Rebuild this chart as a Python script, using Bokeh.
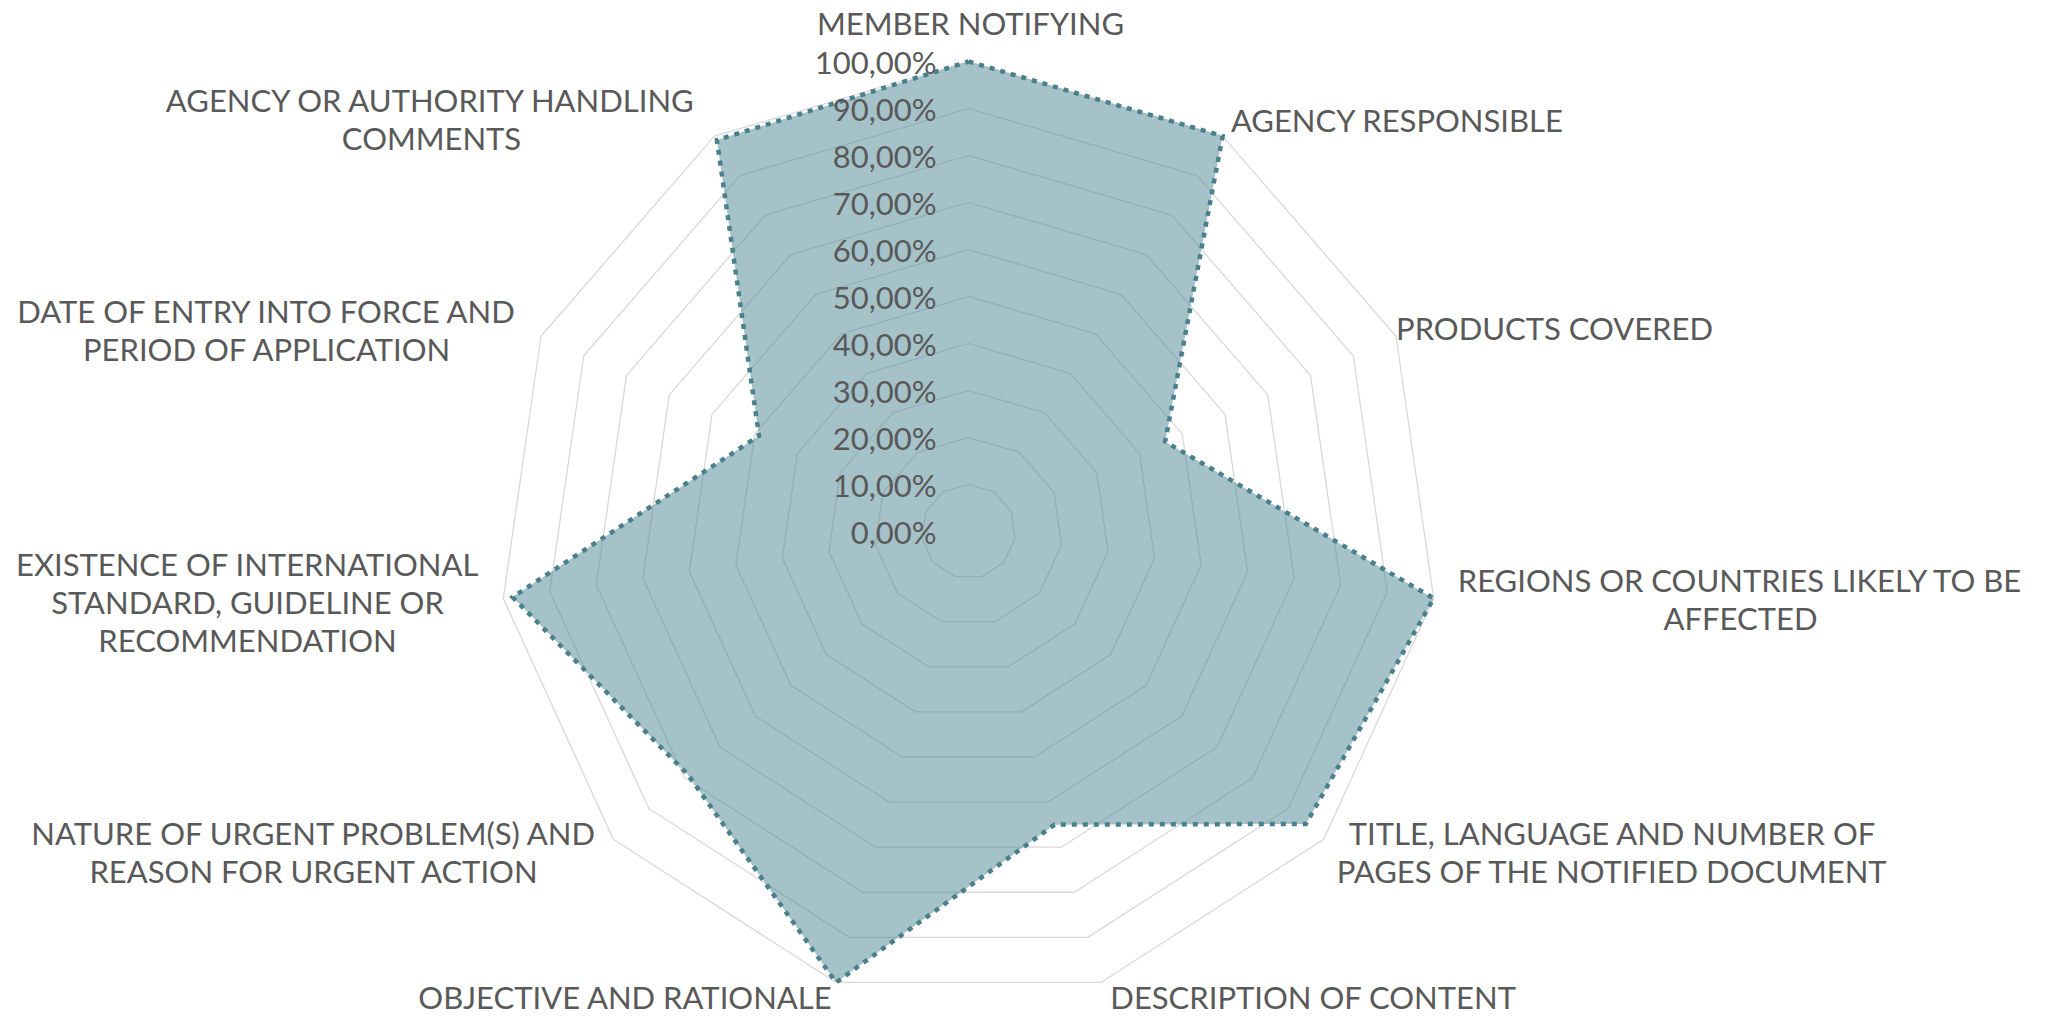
import math
from bokeh.plotting import figure
from bokeh.models import Range1d, ColumnDataSource
from bokeh.core.properties import value
from bokeh.embed import file_html
from bokeh.resources import INLINE

# ---------------- data ----------------
categories = [
    "MEMBER NOTIFYING",
    "AGENCY RESPONSIBLE",
    "PRODUCTS COVERED",
    "REGIONS OR COUNTRIES LIKELY TO BE\nAFFECTED",
    "TITLE, LANGUAGE AND NUMBER OF\nPAGES OF THE NOTIFIED DOCUMENT",
    "DESCRIPTION OF CONTENT",
    "OBJECTIVE AND RATIONALE",
    "NATURE OF URGENT PROBLEM(S) AND\nREASON FOR URGENT ACTION",
    "EXISTENCE OF INTERNATIONAL\nSTANDARD, GUIDELINE OR\nRECOMMENDATION",
    "DATE OF ENTRY INTO FORCE AND\nPERIOD OF APPLICATION",
    "AGENCY OR AUTHORITY HANDLING\nCOMMENTS",
]
values = [1.00, 1.00, 0.46, 1.00, 0.95, 0.65, 1.00, 0.79, 0.98, 0.49, 0.99]
tick_values = [0.0, 0.1, 0.2, 0.3, 0.4, 0.5, 0.6, 0.7, 0.8, 0.9, 1.0]
tick_labels = ["0,00%", "10,00%", "20,00%", "30,00%", "40,00%", "50,00%",
               "60,00%", "70,00%", "80,00%", "90,00%", "100,00%"]

# ---------------- layout ----------------
W, H = 2049, 1019
PX = 470.0             # pixels per unit radius (100%)
CX, CY = 968.0, 531.0  # centre of the radar on screen
# category label centres, screen-pixel offsets from the radar centre
label_offsets_px = [(2, -509), (429, -412), (586, -204), (772, 67), (644, 320),
                    (345, 465), (-343, 465), (-654, 320), (-721, 70),
                    (-701, -202), (-537, -413)]
tick_label_dx_px = -32

FONT = "Lato"
FONT_SIZE = "31px"
TEXT_COLOR = "#595959"
GRID_COLOR = "#d9d9d9"
FILL_COLOR = "#4e8594"
LINE_COLOR = "#4a7f8c"

n = len(categories)
angles = [2 * math.pi * i / n for i in range(n)]


def polar(r, a):
    return r * math.sin(a), r * math.cos(a)


x0 = -CX / PX
x1 = (W - CX) / PX
y1 = CY / PX
y0 = (CY - H) / PX

p = figure(width=W, height=H, output_backend="svg", toolbar_location=None,
           title=None, x_range=Range1d(x0, x1), y_range=Range1d(y0, y1),
           min_border=0, outline_line_color=None)
p.axis.visible = False
p.grid.visible = False
p.background_fill_color = "white"
p.border_fill_color = "white"

# grid rings
for t in tick_values[1:]:
    xs = [polar(t, a)[0] for a in angles] + [polar(t, angles[0])[0]]
    ys = [polar(t, a)[1] for a in angles] + [polar(t, angles[0])[1]]
    p.line(xs, ys, line_color=GRID_COLOR, line_width=1.3)

# data polygon
dx = [polar(v, a)[0] for v, a in zip(values, angles)]
dy = [polar(v, a)[1] for v, a in zip(values, angles)]
p.patch(dx, dy, fill_color=FILL_COLOR, fill_alpha=0.5, line_color=None)
p.line(dx + [dx[0]], dy + [dy[0]], line_color=LINE_COLOR, line_width=4.5,
       line_dash="5 6", line_cap="butt", line_join="miter")

# radial tick labels
tsrc = ColumnDataSource(dict(x=[tick_label_dx_px / PX] * len(tick_values),
                             y=tick_values, t=tick_labels))
p.text(x="x", y="y", text="t", source=tsrc, text_align="right",
       text_baseline="middle", text_font=value(FONT), text_font_size=FONT_SIZE,
       text_color=TEXT_COLOR)

# category labels
lsrc = ColumnDataSource(dict(x=[o[0] / PX for o in label_offsets_px],
                             y=[-o[1] / PX for o in label_offsets_px],
                             t=categories))
p.text(x="x", y="y", text="t", source=lsrc, text_align="center",
       text_baseline="middle", text_font=value(FONT), text_font_size=FONT_SIZE,
       text_color=TEXT_COLOR, text_line_height=1.0)

open("out.html", "w").write(file_html(p, INLINE))
